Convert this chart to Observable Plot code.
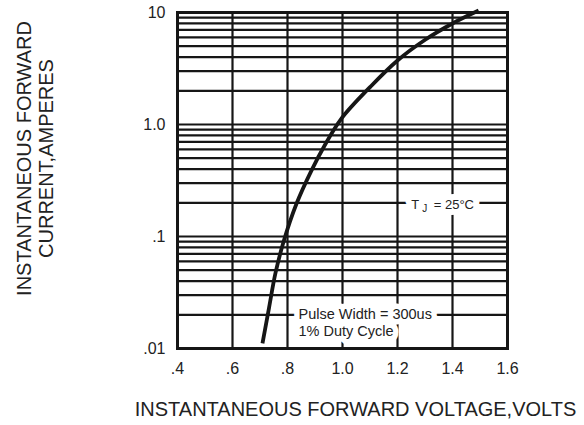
<!DOCTYPE html>
<html>
<head>
<meta charset="utf-8">
<script src="https://cdn.jsdelivr.net/npm/d3@7"></script>
<script src="https://cdn.jsdelivr.net/npm/@observablehq/plot@0.6"></script>
<style>
  html, body { margin: 0; padding: 0; background: #fff; }
  #chart svg { display: block; }
</style>
</head>
<body>
<div id="chart"></div>
<script>
// Forward characteristic curve
const voltage = [0.709, 0.733, 0.756, 0.787, 0.833, 0.887, 0.935, 0.996, 1.102, 1.2, 1.302, 1.4, 1.495];
const current = [0.0111, 0.0232, 0.0468, 0.092, 0.197, 0.388, 0.65, 1.13, 2.18, 3.73, 5.74, 7.98, 10.4];

// Axis ticks and labels
const xTicks = [0.4, 0.6, 0.8, 1.0, 1.2, 1.4, 1.6];
const xTickLabels = [".4", ".6", ".8", "1.0", "1.2", "1.4", "1.6"];
const yTicks = [0.01, 0.1, 1, 10];
const yTickLabels = [".01", ".1", "1.0", "10"];

// Grid lines
const xGrid = [0.6, 0.8, 1.0, 1.2, 1.4];
const yGrid = [
  0.02, 0.03, 0.04, 0.05, 0.06, 0.07, 0.08, 0.09, 0.1,
  0.2, 0.3, 0.4, 0.5, 0.6, 0.7, 0.8, 0.9, 1,
  2, 3, 4, 5, 6, 7, 8, 9
];

// Annotations
const noteTj = {x: 1.364, y: 0.19, text: "TJ = 25°C"};
const notePulse = {x: 0.84, y: 0.0172, text: "Pulse Width = 300us\n1% Duty Cycle"};

const xTitle = "INSTANTANEOUS FORWARD VOLTAGE,VOLTS";
const yTitle = "INSTANTANEOUS FORWARD\nCURRENT,AMPERES";

const curve = voltage.map((v, i) => ({v, i: current[i]}));
const ink = "#161616";
const textInk = "#222";

const chart = Plot.plot({
  width: 584,
  height: 425,
  marginLeft: 177,
  marginRight: 77,
  marginTop: 12,
  marginBottom: 77,
  style: {fontFamily: "'Liberation Sans', Arial, sans-serif", fontSize: "16px", background: "#fff", color: textInk},
  x: {domain: [0.4, 1.6]},
  y: {type: "log", domain: [0.01, 10], axis: null},
  marks: [
    Plot.ruleY(yGrid, {stroke: ink, strokeWidth: 2.2}),
    Plot.ruleX(xGrid, {stroke: ink, strokeWidth: 2.2}),
    Plot.frame({stroke: ink, strokeWidth: 3}),
    Plot.line(curve, {x: "v", y: "i", curve: "catmull-rom", stroke: ink, strokeWidth: 3.8, strokeLinecap: "butt"}),
    // annotations (white halo hides the grid behind them)
    Plot.text([notePulse], {x: "x", y: "y", text: "text", textAnchor: "start", lineAnchor: "middle", lineHeight: 1.2, fontSize: 14.5, fill: textInk, stroke: "white", strokeWidth: 11, strokeLinejoin: "round", className: "pulse-note"}),
    Plot.text([noteTj], {x: "x", y: "y", text: "text", textAnchor: "middle", fontSize: 13, fill: textInk, stroke: "white", strokeWidth: 12, strokeLinejoin: "round", className: "tj-note"}),
    // axes
    Plot.axisX(xTicks, {tickSize: 0, tickPadding: 14, tickFormat: (d, i) => xTickLabels[i], label: null, fontSize: 16, fill: textInk}),
    Plot.text(yTicks, {y: d => d, text: (d, i) => yTickLabels[i], frameAnchor: "left", textAnchor: "end", dx: -12, fontSize: 16, fill: textInk}),
    // axis titles
    Plot.text([xTitle], {frameAnchor: "bottom", text: d => d, textAnchor: "middle", dx: 13, dy: 61, lineAnchor: "middle", fontSize: 20, fill: textInk}),
    Plot.text([yTitle], {frameAnchor: "left", text: d => d, textAnchor: "middle", rotate: -90, dx: -143, dy: -22, lineAnchor: "middle", lineHeight: 1.1, fontSize: 20, fill: textInk})
  ]
});

// Subscript J in "TJ = 25°C"
d3.select(chart).selectAll(".tj-note text").each(function () {
  const t = d3.select(this);
  const s = t.text();
  t.text(null);
  t.append("tspan").text(s.slice(0, 1));
  t.append("tspan").attr("font-size", 10).attr("dx", 3).attr("dy", 3).text(s.slice(1, 2));
  t.append("tspan").attr("dy", -3).attr("dx", 3).text(s.slice(2));
});
d3.select(chart).selectAll(".tj-note text, .pulse-note text").attr("paint-order", "stroke");

document.getElementById("chart").append(chart);
</script>
</body>
</html>
